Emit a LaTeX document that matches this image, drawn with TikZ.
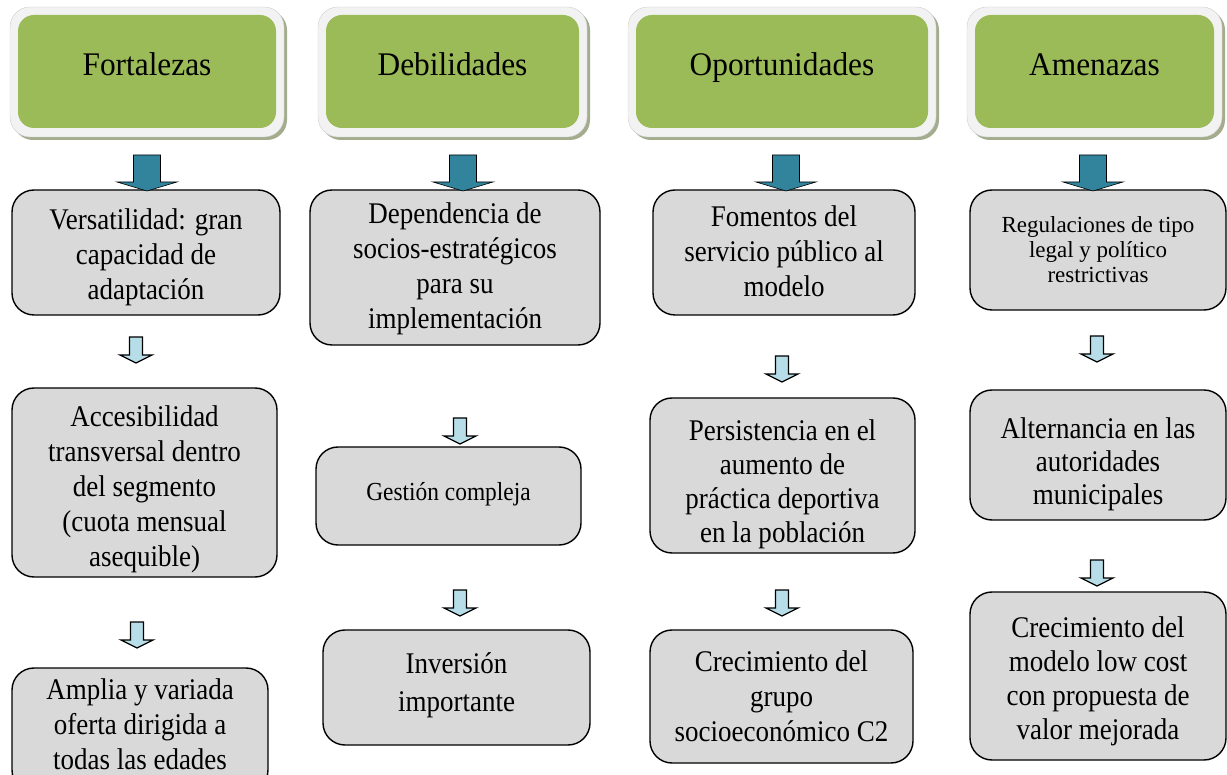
\documentclass[tikz,border=0pt]{standalone}
\usepackage{fontspec}
\setmainfont{Liberation Serif}
\newfontfamily\hdfont{Liberation Serif}[FakeStretch=0.95]
\newfontfamily\bdfont{Liberation Serif}[FakeStretch=0.9]
\definecolor{hgreen}{HTML}{9BBB59}
\definecolor{hframe}{HTML}{F2F2F2}
\definecolor{hshadow}{HTML}{A3AD8E}
\definecolor{gfill}{HTML}{D9D9D9}
\definecolor{bigblue}{HTML}{31849B}
\definecolor{smallblue}{HTML}{B7DEE8}
\tikzset{
  hshad/.style={fill=hshadow, rounded corners=20pt, inner sep=0pt, minimum height=130pt},
  hfr/.style={fill=hframe, draw=hframe!85!black, line width=0.4pt, rounded corners=20pt, inner sep=0pt, minimum height=130pt},
  hgr/.style={fill=hgreen, rounded corners=16pt, inner sep=0pt, minimum height=113pt},
  htxt/.style={anchor=base, inner sep=0pt, font=\hdfont\fontsize{33}{38}\selectfont},
  gbox/.style={fill=gfill, draw=black, line width=1.4pt, rounded corners=22pt, inner sep=0pt},
  btxt/.style={inner sep=0pt, align=center, font=\bdfont\fontsize{30}{35}\selectfont},
  bigarr/.pic={\draw[fill=bigblue, draw=black, line width=0.6pt]
     (-13.5,0) -- (13.5,0) -- (13.5,27) -- (30,27) -- (0,36) -- (-30,27) -- (-13.5,27) -- cycle;},
  smallarr/.pic={\draw[fill=smallblue, draw=black, line width=1.3pt, line join=miter]
     (-6.5,0) -- (6.5,0) -- (6.5,18) -- (16,18) -- (0,26) -- (-16,18) -- (-6.5,18) -- cycle;}
}
\begin{document}
\begin{tikzpicture}[x=1pt,y=-1pt]
\useasboundingbox (0,0) rectangle (1227,775);
\clip (0,0) rectangle (1227,775);
% headers
\foreach \cx/\w/\nm/\txt in {147/274/hF/Fortalezas, 452.5/269/hD/Debilidades, 782/308/hO/Oportunidades, 1094.5/255/hA/Amenazas}{
  \node[hshad, minimum width=\w pt] at (\cx+3,75) {};
  \node[hfr, minimum width=\w pt] (\nm) at (\cx,72) {};
  \node[hgr, minimum width=\w pt-16pt] (\nm g) at (\cx,71.5) {};
  \node[htxt] (\nm t) at (\cx,76) {\txt};
}
% column 1
\node[gbox, minimum width=268pt, minimum height=125pt] (b11) at (146,252.5) {};
\node[btxt, yshift=-5pt] (b11t) at (b11) {Versatilidad: gran\\capacidad de\\adaptación};
\node[gbox, minimum width=265pt, minimum height=189pt] (b12) at (144.5,482.5) {};
\node[btxt, yshift=-7pt] (b12t) at (b12) {Accesibilidad\\transversal dentro\\del segmento\\(cuota mensual\\asequible)};
\node[gbox, minimum width=256pt, minimum height=124pt] (b13) at (140,730) {};
\node[btxt] (b13t) at (140,724) {Amplia y variada\\oferta dirigida a\\todas las edades};
% column 2
\node[gbox, minimum width=290pt, minimum height=155pt] (b21) at (455,267.5) {};
\node[btxt, yshift=-1pt] (b21t) at (b21) {Dependencia de\\socios-estratégicos\\para su\\implementación};
\node[gbox, minimum width=265pt, minimum height=98pt] (b22) at (448.5,496) {};
\node[btxt, font=\bdfont\fontsize{26}{30}\selectfont, yshift=2pt] (b22t) at (b22) {Gestión compleja};
\node[gbox, minimum width=267pt, minimum height=115pt] (b23) at (456.5,687.5) {};
\node[btxt, yshift=2pt, font=\bdfont\fontsize{30}{38}\selectfont] (b23t) at (b23) {Inversión\\importante};
% column 3
\node[gbox, minimum width=262pt, minimum height=125pt] (b31) at (784,252.5) {};
\node[btxt, yshift=1pt] (b31t) at (b31) {Fomentos del\\servicio público al\\modelo};
\node[gbox, minimum width=265pt, minimum height=155pt] (b32) at (782.5,475.5) {};
\node[btxt, yshift=-9pt, font=\bdfont\fontsize{30}{34}\selectfont] (b32t) at (b32) {Persistencia en el\\aumento de\\práctica deportiva\\en la población};
\node[gbox, minimum width=263pt, minimum height=133pt] (b33) at (781.5,696.5) {};
\node[btxt] (b33t) at (b33) {Crecimiento del\\grupo\\socioeconómico C2};
% column 4
\node[gbox, minimum width=256pt, minimum height=120pt] (b41) at (1098,250) {};
\node[btxt, font=\fontsize{23}{25}\selectfont] (b41t) at (b41) {Regulaciones de tipo\\legal y político\\restrictivas};
\node[gbox, minimum width=256pt, minimum height=130pt] (b42) at (1098,455) {};
\node[btxt, yshift=-9pt, font=\bdfont\fontsize{30}{33}\selectfont] (b42t) at (b42) {Alternancia en las\\autoridades\\municipales};
\node[gbox, minimum width=256pt, minimum height=168pt] (b43) at (1098,676) {};
\node[btxt, yshift=-5pt, font=\bdfont\fontsize{30}{34}\selectfont] (b43t) at (b43) {Crecimiento del\\modelo low cost\\con propuesta de\\valor mejorada};
% big arrows
\pic at (147,155) {bigarr};
\pic at (463,155) {bigarr};
\pic at (786,155) {bigarr};
\pic at (1093,155) {bigarr};
% small arrows
\pic at (136,337) {smallarr};
\pic at (137,622) {smallarr};
\pic at (460,418) {smallarr};
\pic at (460,590) {smallarr};
\pic at (782,356) {smallarr};
\pic at (782,590) {smallarr};
\pic at (1097,336) {smallarr};
\pic at (1097,560) {smallarr};
\end{tikzpicture}
\end{document}
